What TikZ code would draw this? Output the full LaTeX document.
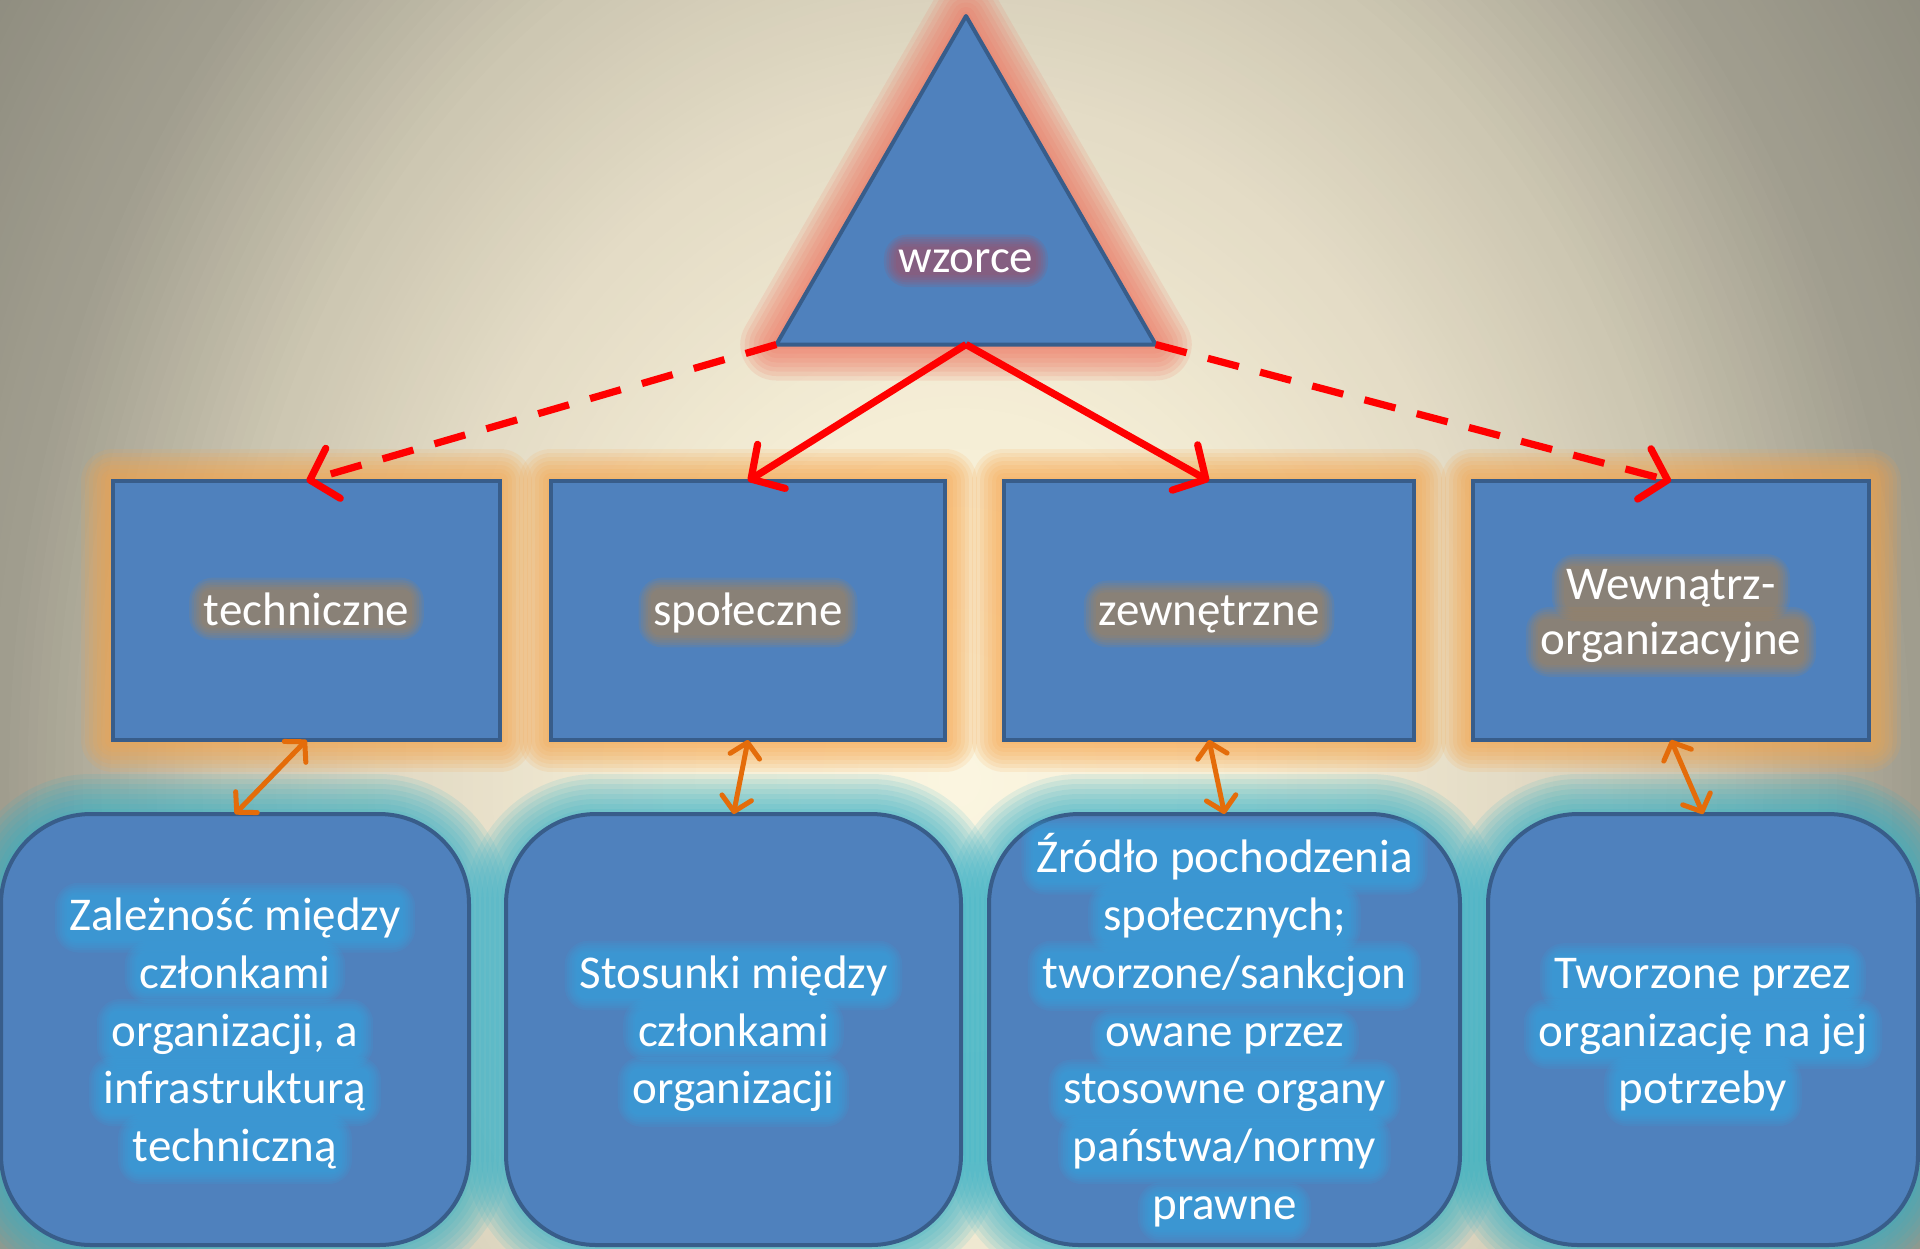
\documentclass[tikz,border=0pt]{standalone}
\usepackage{fontspec}
\setmainfont{Carlito}
\usetikzlibrary{shapes.geometric,arrows.meta}
\pgfdeclarelayer{bg}
\pgfdeclarelayer{glow}
\pgfdeclarelayer{halo}
\pgfdeclarelayer{front}
\pgfsetlayers{bg,glow,main,halo,front}
\definecolor{bgA}{RGB}{251,245,224}
\definecolor{bgB}{RGB}{245,238,214}
\definecolor{bgC}{RGB}{228,220,198}
\definecolor{bgD}{RGB}{205,199,178}
\definecolor{bgE}{RGB}{160,157,142}
\definecolor{bgF}{RGB}{140,138,125}
\definecolor{boxblue}{RGB}{79,129,189}
\definecolor{boxedge}{RGB}{56,93,138}
\definecolor{topglowc}{RGB}{247,163,70}
\definecolor{botglowc}{RGB}{47,176,200}
\definecolor{triglowc}{RGB}{238,118,98}
\definecolor{tophalo}{RGB}{185,131,69}
\definecolor{trihalo}{RGB}{176,72,88}
\definecolor{bothalo}{RGB}{48,171,230}
\definecolor{arrred}{RGB}{255,0,0}
\definecolor{arrorange}{RGB}{228,108,10}
% background band: outer radius, inner radius, inner colour, outer colour
\newcommand\bgband[4]{%
  \foreach \j in {0,...,24} {%
    \pgfmathsetmacro\r{#1-\j*(#1-#2)/24}
    \pgfmathsetmacro\p{\j*100/24}
    \fill[#3!\p!#4] (960,780) ellipse [x radius=\r*19.2, y radius=\r*24];
  }%
}
% text block: prefix, x, first baseline y, line spacing, halo colour, lines
\newcommand\textblock[6]{%
  \foreach \txtline [count=\lineno] in {#6} {%
    \pgfmathsetmacro\yy{#3+(\lineno-1)*#4}
    \begin{pgfonlayer}{front}
      \node[txt] (#1\lineno) at (#2,\yy) {\txtline};
    \end{pgfonlayer}
    \begin{pgfonlayer}{halo}
      \foreach \k in {1,...,6} {
        \fill[#5, opacity=0.13, rounded corners=3pt+\k*1.5pt]
          ([shift={(-\k*1.2pt,-\k*1.2pt)}]#1\lineno.south west) rectangle
          ([shift={(\k*1.2pt,\k*1.2pt)}]#1\lineno.north east);
      }
    \end{pgfonlayer}
  }%
}
\begin{document}
\begin{tikzpicture}[x=0.5pt,y=-0.5pt,
  shapebase/.style={fill=boxblue, draw=boxedge, line width=2pt, outer sep=0pt, inner sep=0pt},
  topbox/.style={shapebase, rectangle, minimum height=129.5pt},
  botbox/.style={shapebase, rectangle, rounded corners=45pt, minimum height=215.5pt},
  tri/.style={shapebase, regular polygon, regular polygon sides=3, minimum size=219pt, line join=round},
  txt/.style={text=white, font=\fontsize{23.5pt}{29pt}\selectfont, inner sep=0pt, anchor=base},
  redarr/.style={draw=arrred, line width=3.6pt, -{Straight Barb[length=12pt,width=26pt,round]}},
  reddash/.style={redarr, dash pattern=on 16pt off 11pt},
  orarr/.style={draw=arrorange, line width=2.5pt, {Straight Barb[length=7pt,width=15pt,round]}-{Straight Barb[length=7pt,width=15pt,round]}}
]
\useasboundingbox (0,0) rectangle (1920,1248);
\begin{pgfonlayer}{bg}
  \clip (0,0) rectangle (1920,1248);
  \fill[bgF] (0,0) rectangle (1920,1248);
  \bgband{62}{50.5}{bgE}{bgF}
  \bgband{50}{38.5}{bgD}{bgE}
  \bgband{38}{28.5}{bgC}{bgD}
  \bgband{28}{15.5}{bgB}{bgC}
  \bgband{15}{0.5}{bgA}{bgB}
\end{pgfonlayer}

% shapes
\node[tri] (tri) at (966,235) {};
\node[topbox, minimum width=193.5pt] (t1) at (306.5,610.5) {};
\node[topbox, minimum width=197pt] (t2) at (748,610.5) {};
\node[topbox, minimum width=205pt] (t3) at (1209,610.5) {};
\node[topbox, minimum width=198pt] (t4) at (1671,610.5) {};
\node[botbox, minimum width=234pt] (b1) at (235,1029.5) {};
\node[botbox, minimum width=227.5pt] (b2) at (733.5,1029.5) {};
\node[botbox, minimum width=235.5pt] (b3) at (1224.5,1029.5) {};
\node[botbox, minimum width=215pt] (b4) at (1703,1029.5) {};

% glows
\begin{pgfonlayer}{glow}
  \foreach \k in {1,...,8} {
    \draw[triglowc, opacity=0.15, line width=\k*4.5pt, line join=round]
      (tri.corner 1) -- (tri.corner 2) -- (tri.corner 3) -- cycle;
  }
  \foreach \n in {t1,t2,t3,t4} {
    \foreach \k in {1,...,8} {
      \draw[topglowc, opacity=0.13, line width=\k*4pt, line join=round]
        (\n.south west) rectangle (\n.north east);
    }
  }
  \foreach \n in {b1,b2,b3,b4} {
    \foreach \k in {1,...,8} {
      \draw[botglowc, opacity=0.12, line width=\k*5pt, rounded corners=45pt]
        (\n.south west) rectangle (\n.north east);
    }
  }
\end{pgfonlayer}

% connectors
\draw[reddash] (tri.corner 2) -- (t1.north);
\draw[reddash] (tri.corner 3) -- (t4.north);
\draw[redarr] (tri.side 2) -- (t2.north);
\draw[redarr] (tri.side 2) -- (t3.north);
\draw[orarr] (t1.south) -- (b1.north);
\draw[orarr] (t2.south) -- (b2.north);
\draw[orarr] (t3.south) -- (b3.north);
\draw[orarr] (t4.south) -- (b4.north);

% texts
\textblock{wz}{966}{272}{57.9}{trihalo}{wzorce}
\textblock{tx}{306.5}{625}{57.9}{tophalo}{techniczne}
\textblock{sp}{748}{625}{57.9}{tophalo}{społeczne}
\textblock{ze}{1209}{625}{57.9}{tophalo}{zewnętrzne}
\textblock{we}{1671}{599}{55}{tophalo}{Wewnątrz-,organizacyjne}
\textblock{ba}{235}{930.2}{57.9}{bothalo}{Zależność między,członkami,{organizacji, a},infrastrukturą,techniczną}
\textblock{bb}{733.5}{988.1}{57.9}{bothalo}{Stosunki między,członkami,organizacji}
\textblock{bc}{1224.5}{872.3}{57.9}{bothalo}{Źródło pochodzenia,społecznych;,tworzone/sankcjon,owane przez,stosowne organy,państwa/normy,prawne}
\textblock{bd}{1703}{988.1}{57.9}{bothalo}{Tworzone przez,organizację na jej,potrzeby}
\end{tikzpicture}
\end{document}
